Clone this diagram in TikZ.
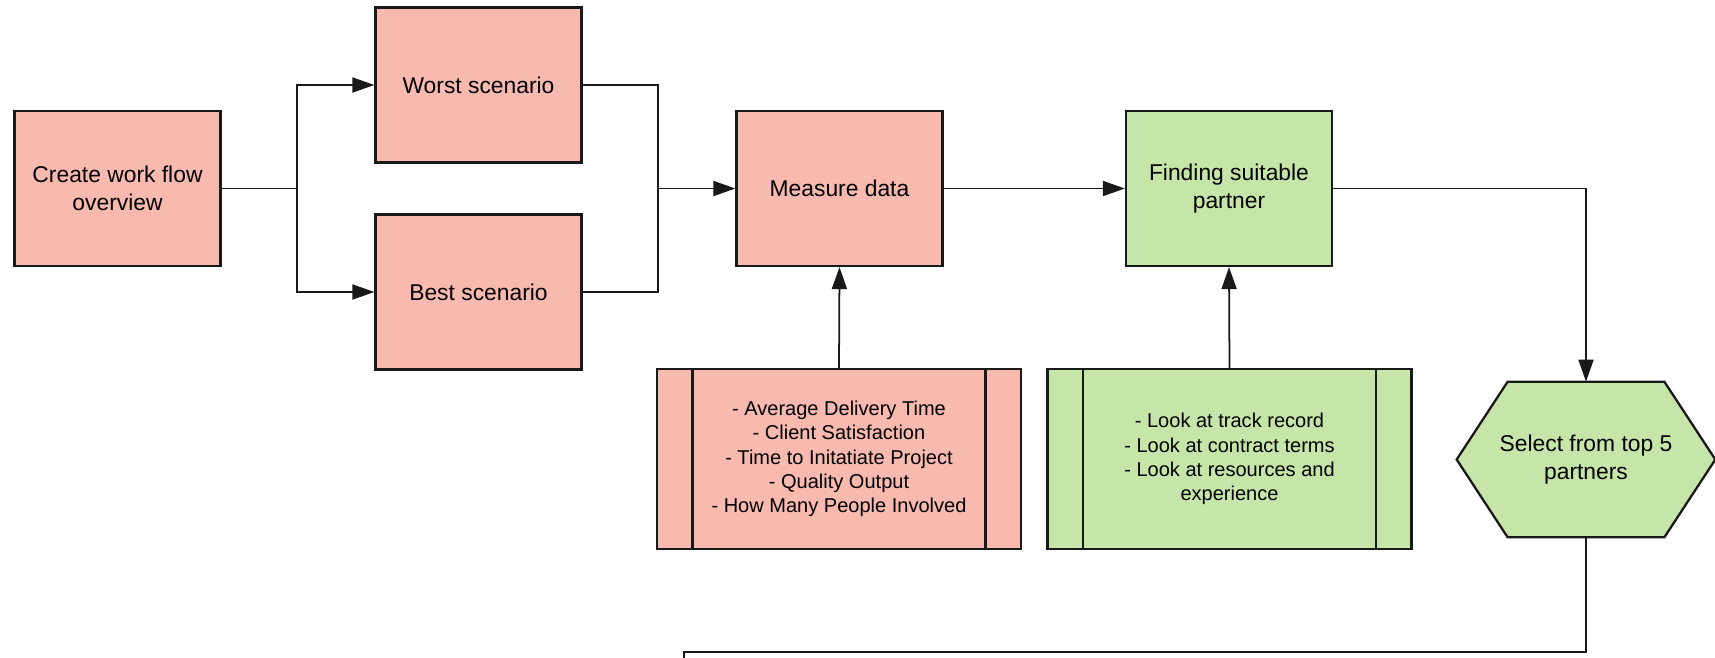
\documentclass[tikz,border=0pt]{standalone}
\usepackage{fontspec}
\setmainfont{Liberation Sans}
\usetikzlibrary{arrows.meta, backgrounds}

\definecolor{salmon}{HTML}{F8B9AF}
\definecolor{sage}{HTML}{C6E6A9}

\begin{document}
\begin{tikzpicture} [x=0.02cm, y=-0.02cm, >={Triangle[length=0.44cm, width=0.3cm]},
  box/.style={rectangle, draw=black!90, line width=1.3pt, minimum width=4.12cm, minimum height=3.1cm, align=center, font=\fontsize{13}{15.8}\selectfont},
  lst/.style={rectangle, draw=black!90, line width=1.3pt, minimum width=7.28cm, minimum height=3.6cm, align=center, font=\fontsize{11.4}{13.8}\selectfont},
  wire/.style={line width=1pt, draw=black!90}]
\useasboundingbox (0,0) rectangle (1715,657);
\node [box, fill=salmon] (create) at (117.5,188.5) {Create work flow\\overview};
\node [box, fill=salmon] (worst) at (478.5,85) {Worst scenario};
\node [box, fill=salmon] (best) at (478.5,292) {Best scenario};
\node [box, fill=salmon] (measure) at (839.5,188.5) {Measure data};
\node [box, fill=sage] (finding) at (1229,188.5) {Finding suitable\\partner};
\node [lst, fill=salmon] (mlist) at (839,459) {- Average Delivery Time\\- Client Satisfaction\\- Time to Initatiate Project\\- Quality Output\\- How Many People Involved};
\node [lst, fill=sage] (flist) at (1229.5,459) {- Look at track record\\- Look at contract terms\\- Look at resources and\\experience};
\node [minimum width=5.16cm, minimum height=3.1cm, align=center, font=\fontsize{13}{15.8}\selectfont] (select) at (1586,459.5) {Select from top 5\\partners};
\begin{scope}[on background layer]
\draw [fill=sage, draw=black!90, line width=1.3pt] (select.west) -- ([xshift=1.02cm]select.north west) -- ([xshift=-1.02cm]select.north east) -- (select.east) -- ([xshift=-1.02cm]select.south east) -- ([xshift=1.02cm]select.south west) -- cycle;
\end{scope}
\foreach \n in {mlist, flist}
  \draw [draw=black!90, line width=1.3pt] ([xshift=0.73cm]\n.north west) -- ([xshift=0.73cm]\n.south west) ([xshift=-0.73cm]\n.north east) -- ([xshift=-0.73cm]\n.south east);
\coordinate (split) at (297,188.5);
\coordinate (join) at (658,188.5);
\coordinate (loop) at (684,652);
\coordinate (tail) at (684,670);
\draw [wire] (create.east) -- (split);
\draw [wire, ->] (split) |- (worst.west);
\draw [wire, ->] (split) |- (best.west);
\draw [wire] (worst.east) -| (join);
\draw [wire] (best.east) -| (join);
\draw [wire, ->] (join) -- (measure.west);
\draw [wire, ->] (measure.east) -- (finding.west);
\draw [wire, ->] (finding.east) -| (select.north);
\draw [wire, ->] (mlist.north) -- (measure.south);
\draw [wire, ->] (flist.north) -- (finding.south);
\draw [wire] (select.south) |- (loop) -- (tail);
\end{tikzpicture}
\end{document}
